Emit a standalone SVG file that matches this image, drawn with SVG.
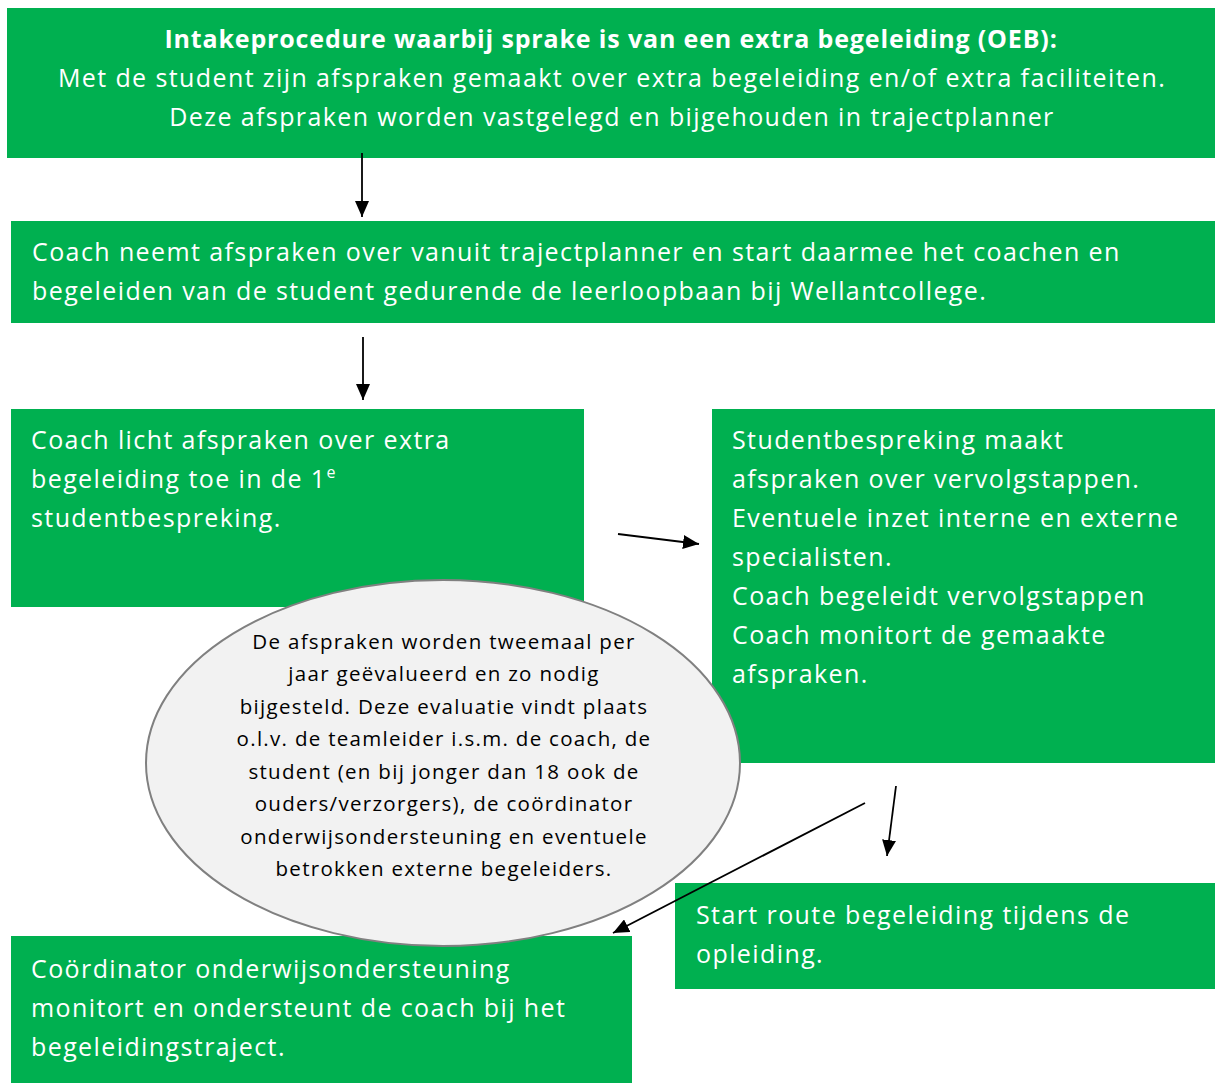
<svg xmlns="http://www.w3.org/2000/svg" width="1215" height="1084" viewBox="0 0 1215 1084">
<defs>
<style>
.box{fill:#00B050;}
.t{font-family:"Open Sans","Liberation Sans",sans-serif;font-size:25px;letter-spacing:1.4px;fill:#FFFFFF;}
.b{font-weight:bold;letter-spacing:0.85px;}
.c{text-anchor:middle;}
.e{font-family:"Open Sans","Liberation Sans",sans-serif;font-size:20.5px;letter-spacing:1.3px;fill:#000000;text-anchor:middle;}
</style>
<marker id="ah2" viewBox="0 0 16 14" refX="16" refY="7" markerWidth="16" markerHeight="14" markerUnits="userSpaceOnUse" orient="auto">
<path d="M0,0 L16,7 L0,14 Z" fill="#000"/>
</marker>
</defs>
<rect width="1215" height="1084" fill="#FFFFFF"/>
<g id="box1">
<rect class="box" x="7" y="8" width="1208" height="150"/>
<text class="t c b" x="611" y="48">Intakeprocedure waarbij sprake is van een extra begeleiding (OEB):</text>
<text class="t c" x="612" y="87">Met de student zijn afspraken gemaakt over extra begeleiding en/of extra faciliteiten.</text>
<text class="t c" x="612" y="126">Deze afspraken worden vastgelegd en bijgehouden in trajectplanner</text>
</g>
<g id="box2">
<rect class="box" x="11" y="221" width="1204" height="102"/>
<text class="t" x="32" y="261">Coach neemt afspraken over vanuit trajectplanner en start daarmee het coachen en</text>
<text class="t" x="32" y="300">begeleiden van de student gedurende de leerloopbaan bij Wellantcollege.</text>
</g>
<g id="box3">
<rect class="box" x="11" y="409" width="573" height="198"/>
<text class="t" x="31" y="449">Coach licht afspraken over extra</text>
<text class="t" x="31" y="488">begeleiding toe in de 1<tspan font-size="16" dy="-10">e</tspan></text>
<text class="t" x="31" y="527">studentbespreking.</text>
</g>
<g id="box4">
<rect class="box" x="712" y="409" width="503" height="354"/>
<text class="t" x="732" y="449">Studentbespreking maakt</text>
<text class="t" x="732" y="488">afspraken over vervolgstappen.</text>
<text class="t" x="732" y="527">Eventuele inzet interne en externe</text>
<text class="t" x="732" y="566">specialisten.</text>
<text class="t" x="732" y="605">Coach begeleidt vervolgstappen</text>
<text class="t" x="732" y="644">Coach monitort de gemaakte</text>
<text class="t" x="732" y="683">afspraken.</text>
</g>
<g id="box5">
<rect class="box" x="675" y="883" width="540" height="106"/>
<text class="t" x="696" y="924">Start route begeleiding tijdens de</text>
<text class="t" x="696" y="963">opleiding.</text>
</g>
<g id="box6">
<rect class="box" x="11" y="936" width="621" height="147"/>
<text class="t" x="31" y="978">Coördinator onderwijsondersteuning</text>
<text class="t" x="31" y="1017">monitort en ondersteunt de coach bij het</text>
<text class="t" x="31" y="1056">begeleidingstraject.</text>
</g>
<g id="ellipse">
<ellipse cx="443" cy="763" rx="297" ry="183" fill="#F2F2F2" stroke="#808080" stroke-width="2"/>
<text class="e" x="444" y="649">De afspraken worden tweemaal per</text>
<text class="e" x="444" y="681">jaar geëvalueerd en zo nodig</text>
<text class="e" x="444" y="714">bijgesteld. Deze evaluatie vindt plaats</text>
<text class="e" x="444" y="746">o.l.v. de teamleider i.s.m. de coach, de</text>
<text class="e" x="444" y="779">student (en bij jonger dan 18 ook de</text>
<text class="e" x="444" y="811">ouders/verzorgers), de coördinator</text>
<text class="e" x="444" y="844">onderwijsondersteuning en eventuele</text>
<text class="e" x="444" y="876">betrokken externe begeleiders.</text>
</g>
<g id="connectors" stroke="#000" stroke-width="1.8" fill="none">
<line x1="362" y1="153" x2="362" y2="217" marker-end="url(#ah2)"/>
<line x1="363" y1="337" x2="363" y2="400" marker-end="url(#ah2)"/>
<line x1="618" y1="534" x2="699" y2="544" marker-end="url(#ah2)"/>
<line x1="896" y1="786" x2="887" y2="856" marker-end="url(#ah2)"/>
<line x1="865" y1="803" x2="613" y2="933" marker-end="url(#ah2)"/>
</g>
</svg>
